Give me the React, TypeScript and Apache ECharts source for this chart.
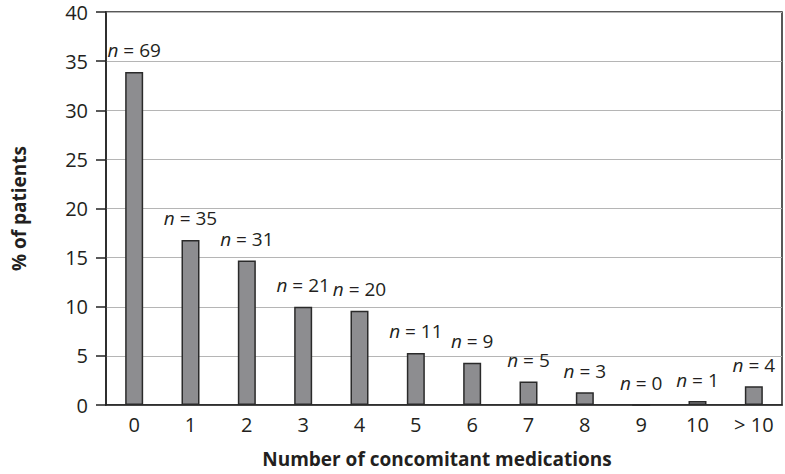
import React, { useEffect, useRef } from "react";
import * as echarts from "echarts";

const categories = ["0", "1", "2", "3", "4", "5", "6", "7", "8", "9", "10", "> 10"];
const percentValues = [33.9, 16.8, 14.7, 10.0, 9.6, 5.3, 4.3, 2.4, 1.3, 0, 0.4, 1.9];
const patientCounts = [69, 35, 31, 21, 20, 11, 9, 5, 3, 0, 1, 4];
const yTicks = [0, 5, 10, 15, 20, 25, 30, 35, 40];

const FONT = "'Open Sans', 'Noto Sans', sans-serif";

export default function App() {
  const ref = useRef<HTMLDivElement>(null);
  useEffect(() => {
    if (!ref.current) return;
    const chart = echarts.init(ref.current, undefined, { renderer: "svg" });
    chart.setOption({
      animation: false,
      backgroundColor: "#ffffff",
      grid: { left: 106, right: 3, top: 12, bottom: 69, containLabel: false,
        show: true, borderColor: "#222", borderWidth: 1.5 },
      xAxis: {
        type: "category",
        data: categories,
        name: "Number of concomitant medications",
        nameLocation: "middle",
        nameGap: 44,
        nameTextStyle: { fontFamily: FONT, fontSize: 19, fontWeight: "bold", color: "#231f20", padding: [0, 14, 0, 0] },
        axisLine: { lineStyle: { color: "#222", width: 1.5 } },
        axisTick: { show: false },
        axisLabel: { fontFamily: FONT, fontSize: 20, color: "#231f20", margin: 9 },
      },
      yAxis: {
        type: "value",
        min: yTicks[0],
        max: yTicks[yTicks.length - 1],
        interval: 5,
        name: "% of patients",
        nameLocation: "middle",
        nameGap: 78,
        nameTextStyle: { fontFamily: FONT, fontSize: 19, fontWeight: "bold", color: "#231f20" },
        axisLine: { show: true, lineStyle: { color: "#222", width: 1.5 } },
        axisTick: { show: true, length: 10, lineStyle: { color: "#222", width: 1.5 } },
        axisLabel: { fontFamily: FONT, fontSize: 20, color: "#231f20", margin: 18 },
        splitLine: { lineStyle: { color: "#b5b5b5", width: 1.2 } },
      },
      series: [
        {
          type: "bar",
          data: percentValues,
          barWidth: 18,
          itemStyle: { color: "#8d8d90", borderColor: "#2a2a2a", borderWidth: 1.5 },
          label: {
            show: true,
            position: "top",
            distance: 12,
            formatter: (p: any) => `{i|n} = ${patientCounts[p.dataIndex]}`,
            fontFamily: FONT,
            fontSize: 19,
            color: "#231f20",
            rich: {
              i: { fontFamily: FONT, fontSize: 19, fontStyle: "italic", color: "#231f20" },
            },
          },
        },
      ],
    });
    return () => chart.dispose();
  }, []);
  return <div ref={ref} style={{ width: 785, height: 474, position: "absolute", left: 0, top: 0 }} />;
}
